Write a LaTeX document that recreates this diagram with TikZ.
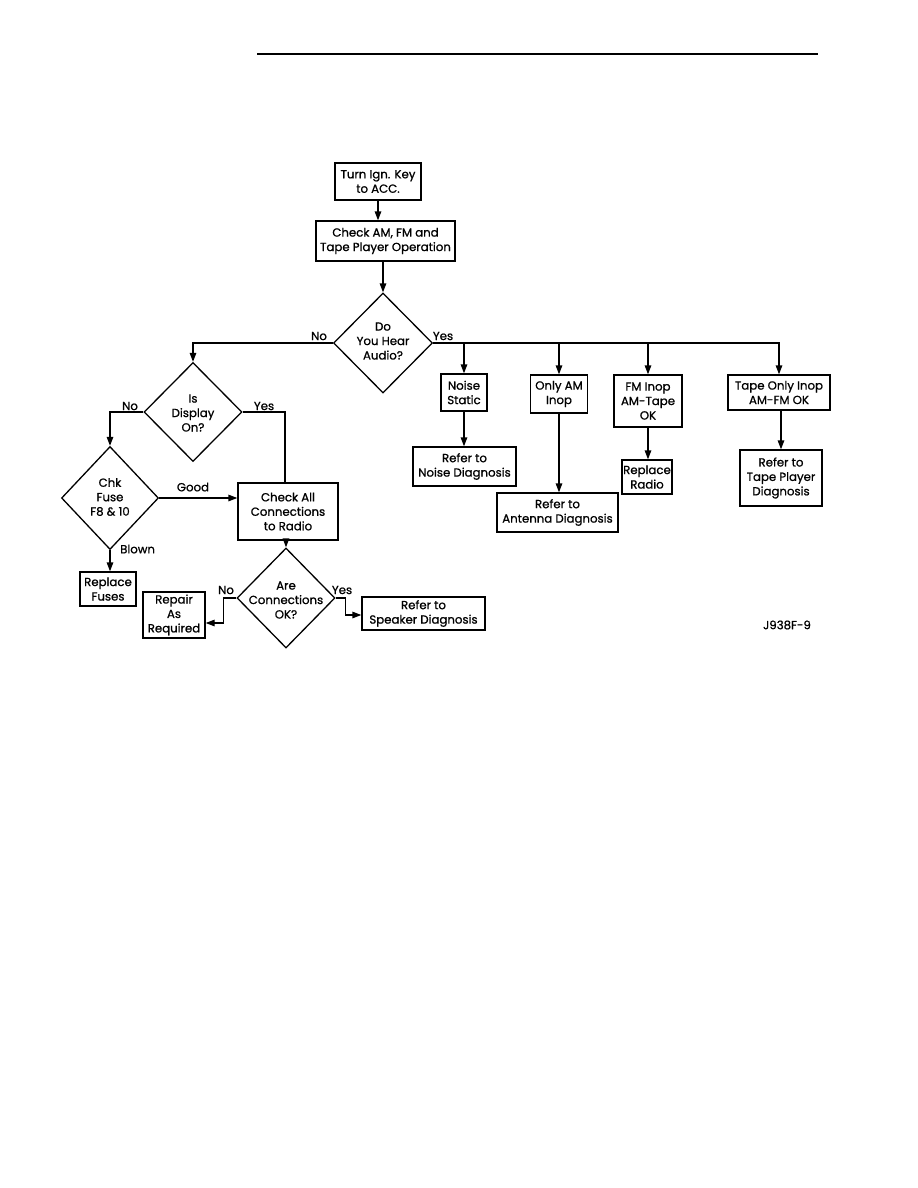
\documentclass[tikz,border=0pt]{standalone}
\usepackage{fontspec}
\setmainfont{Poppins}[FakeBold=0.9]
\usetikzlibrary{shapes.geometric,arrows.meta}
\newcommand\ff{\fontsize{11.8}{14.5}\selectfont}
\tikzset{
  box/.style={draw, line width=1.3bp, inner sep=0pt, align=center, font=\ff},
  dia/.style={draw, diamond, line width=1.3bp, inner sep=0pt},
  dtxt/.style={inner sep=0pt, align=center, font=\ff},
  lab/.style={inner sep=0pt, font=\ff},
  ln/.style={line width=1.3bp},
  arr/.style={line width=1.3bp, -{Triangle[length=9bp,width=6.5bp]}},
}
\begin{document}
\begin{tikzpicture}[x=1bp,y=-1bp]
\useasboundingbox (0,0) rectangle (918,1188);
\draw[line width=2.2bp] (257,54) coordinate (r1) -- (818,54) coordinate (r2);

% boxes
\node[box, minimum width=86bp, minimum height=37bp] (b1) at (378,181.5) {Turn Ign. Key\\to ACC.};
\node[box, minimum width=139bp, minimum height=40bp] (b2) at (385.5,241) {Check AM, FM and\\Tape Player Operation};
\node[dia, minimum width=99bp, minimum height=100bp] (dA) at (383,343) {};
\node[dtxt] (tA) at (383,341) {Do\\You Hear\\Audio?};

\node[box, minimum width=46bp, minimum height=37bp] (nS) at (464,392.5) {Noise\\Static};
\node[box, minimum width=57bp, minimum height=38bp] (oA) at (559,394) {Only AM\\Inop};
\node[box, minimum width=68bp, minimum height=52bp] (fI) at (648,401) {FM Inop\\AM-Tape\\OK};
\node[box, minimum width=102bp, minimum height=35bp] (tI) at (779,392.5) {Tape Only Inop\\AM-FM OK};

\node[box, minimum width=103bp, minimum height=39bp] (nD) at (464.5,466.5) {Refer to\\Noise Diagnosis};
\node[box, minimum width=121bp, minimum height=39bp] (aD) at (557.5,512.5) {Refer to\\Antenna Diagnosis};
\node[box, minimum width=50bp, minimum height=34bp] (rR) at (647,477) {Replace\\Radio};
\node[box, minimum width=82bp, minimum height=56bp] (tD) at (781,478) {Refer to\\Tape Player\\Diagnosis};

\node[dia, minimum width=98bp, minimum height=99bp] (dD) at (193,412) {};
\node[dtxt] (tDd) at (193,413) {Is\\Display\\On?};
\node[dia, minimum width=97bp, minimum height=103bp] (dF) at (110,498) {};
\node[dtxt] (tF) at (110,497) {Chk\\Fuse\\F8 \& 10};
\node[box, minimum width=100bp, minimum height=57bp] (cA) at (288,511.5) {Check All\\Connections\\to Radio};
\node[box, minimum width=56bp, minimum height=34bp] (rF) at (108,589) {Replace\\Fuses};
\node[dia, minimum width=98bp, minimum height=100bp] (dC) at (286,598) {};
\node[dtxt] (tC) at (286,600) {Are\\Connections\\OK?};
\node[box, minimum width=62bp, minimum height=46bp] (rA) at (174,615) {Repair\\As\\Required};
\node[box, minimum width=123bp, minimum height=33bp] (sD) at (423.5,613.5) {Refer to\\Speaker Diagnosis};

% labels
\node[lab] (l1) at (319,336) {No};
\node[lab] (l2) at (443,336) {Yes};
\node[lab] (l3) at (130,406) {No};
\node[lab] (l4) at (264,406) {Yes};
\node[lab] (l5) at (193,487) {Good};
\node[lab, anchor=west] (l6) at (120,549) {Blown};
\node[lab] (l7) at (226,590) {No};
\node[lab] (l8) at (342,590) {Yes};
\node[lab] (l9) at (787,625) {J938F-9};

% connectors
\draw[arr] (b1.south) -- (b1.south |- b2.north);
\draw[arr] (b2.south -| dA.north) -- (dA.north);
\draw[arr] (dA.west) -| (dD.north);
\draw[arr] (dA.east) -| (tI.north);
\draw[arr] (dA.east -| nS.north) -- (nS.north);
\draw[arr] (dA.east -| oA.north) -- (oA.north);
\draw[arr] (dA.east -| fI.north) -- (fI.north);
\draw[arr] (nS.south) -- (nS.south |- nD.north);
\draw[arr] (oA.south) -- (oA.south |- aD.north);
\draw[arr] (fI.south) -- (fI.south |- rR.north);
\draw[arr] (tI.south -| tD.north) -- (tD.north);
\draw[arr] (dD.west) -| (dF.north);
\draw[ln] (dD.east) -| ([xshift=-3bp]cA.north);
\draw[arr] (dF.east) -- (dF.east -| cA.west);
\draw[arr] (dF.south) -- (dF.south |- rF.north);
\draw[arr] (cA.south -| dC.north) -- (dC.north);
\draw[arr] (dC.west) -- ++(-13,0) |- ([yshift=-8bp]rA.east);
\draw[arr] (dC.east) -- ++(10,0) |- ([yshift=-1.5bp]sD.west);
\end{tikzpicture}
\end{document}
